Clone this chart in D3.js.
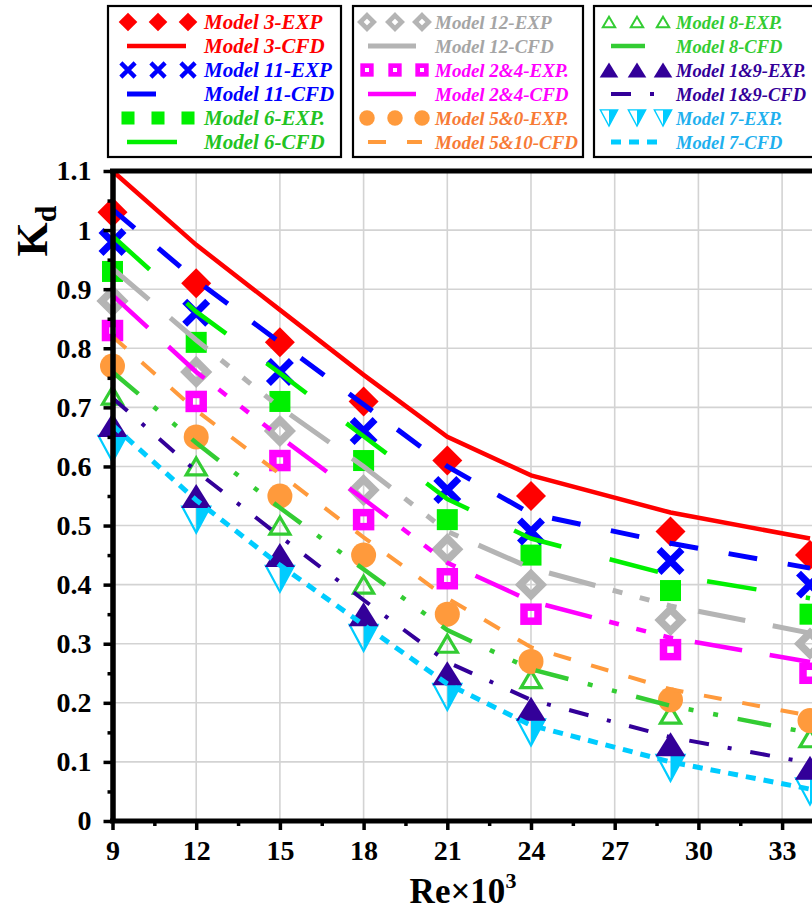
<!DOCTYPE html>
<html>
<head>
<meta charset="utf-8">
<script src="https://cdn.jsdelivr.net/npm/d3@7"></script>
<style>
body { margin: 0; background: #fff; }
text { font-family: "Liberation Serif", "Times New Roman", serif; font-weight: bold; }
</style>
</head>
<body>
<svg id="chart" width="812" height="910"></svg>
<script>
// Re x 10^3 positions shared by every series
var reValues = [9, 12, 15, 18, 21, 24, 29, 34];

// experimental points (markers)
var model3Exp = [1.03, 0.91, 0.81, 0.71, 0.61, 0.55, 0.49, 0.45];
var model11Exp = [0.98, 0.86, 0.76, 0.66, 0.56, 0.49, 0.44, 0.40];
var model6Exp = [0.93, 0.81, 0.71, 0.61, 0.51, 0.45, 0.39, 0.35];
var model12Exp = [0.88, 0.76, 0.66, 0.56, 0.46, 0.40, 0.34, 0.30];
var model24Exp = [0.83, 0.71, 0.61, 0.51, 0.41, 0.35, 0.29, 0.25];
var model50Exp = [0.77, 0.65, 0.55, 0.45, 0.35, 0.27, 0.205, 0.17];
var model8Exp = [0.72, 0.60, 0.50, 0.40, 0.30, 0.24, 0.18, 0.14];
var model19Exp = [0.67, 0.55, 0.45, 0.35, 0.25, 0.19, 0.13, 0.09];
var model7Exp = [0.63, 0.51, 0.41, 0.31, 0.21, 0.15, 0.09, 0.05];

// CFD curves (lines)
var model3Cfd = [1.10, 0.975, 0.865, 0.755, 0.65, 0.585, 0.522, 0.478];
var model11Cfd = [1.035, 0.915, 0.81, 0.705, 0.60, 0.52, 0.47, 0.428];
var model6Cfd = [0.99, 0.862, 0.758, 0.651, 0.545, 0.478, 0.416, 0.377];
var model12Cfd = [0.935, 0.814, 0.70, 0.60, 0.49, 0.428, 0.364, 0.318];
var model24Cfd = [0.89, 0.76, 0.65, 0.545, 0.437, 0.372, 0.31, 0.269];
var model510Cfd = [0.82, 0.695, 0.587, 0.48, 0.377, 0.294, 0.223, 0.178];
var model8Cfd = [0.76, 0.64, 0.53, 0.426, 0.323, 0.257, 0.195, 0.149];
var model19Cfd = [0.716, 0.592, 0.482, 0.374, 0.269, 0.205, 0.142, 0.098];
var model7Cfd = [0.67, 0.543, 0.433, 0.332, 0.232, 0.162, 0.10, 0.054];

var xTickValues = [9, 12, 15, 18, 21, 24, 27, 30, 33];
var xMinorValues = [10.5, 13.5, 16.5, 19.5, 22.5, 25.5, 28.5, 31.5];
var yTickValues = [0, 0.1, 0.2, 0.3, 0.4, 0.5, 0.6, 0.7, 0.8, 0.9, 1, 1.1];
var yMinorValues = [0.05, 0.15, 0.25, 0.35, 0.45, 0.55, 0.65, 0.75, 0.85, 0.95, 1.05];

var models = [
  { exp: model3Exp, cfd: model3Cfd, expName: "Model 3-EXP", cfdName: "Model 3-CFD",
    color: "#ff0000", text: "#ff0000", marker: "diamond", dash: null, lw: 4.5 },
  { exp: model11Exp, cfd: model11Cfd, expName: "Model 11-EXP", cfdName: "Model 11-CFD",
    color: "#0000ff", text: "#0000ff", marker: "cross", dash: "29,31", lw: 5 },
  { exp: model6Exp, cfd: model6Cfd, expName: "Model 6-EXP.", cfdName: "Model 6-CFD",
    color: "#00f000", text: "#22c322", marker: "square", dash: "50,50", lw: 4.5 },
  { exp: model12Exp, cfd: model12Cfd, expName: "Model 12-EXP", cfdName: "Model 12-CFD",
    color: "#b4b4b4", text: "#a5a5a5", marker: "diamondOpen", dash: "48,28,48,18,10,18,10,18,10,22", lw: 5 },
  { exp: model24Exp, cfd: model24Cfd, expName: "Model 2&4-EXP.", cfdName: "Model 2&4-CFD",
    color: "#ff00ff", text: "#ff00ff", marker: "squareOpen", dash: "48,28,48,18,10,18,10,18,10,22", lw: 4.5 },
  { exp: model50Exp, cfd: model510Cfd, expName: "Model 5&0-EXP.", cfdName: "Model 5&10-CFD",
    color: "#ff9a3c", text: "#f77b36", marker: "circle", dash: "18,21", lw: 4 },
  { exp: model8Exp, cfd: model8Cfd, expName: "Model 8-EXP.", cfdName: "Model 8-CFD",
    color: "#33cc33", text: "#33cc33", marker: "triangleOpen", dash: "34,20,5,20,5,20", lw: 4.5 },
  { exp: model19Exp, cfd: model19Cfd, expName: "Model 1&9-EXP.", cfdName: "Model 1&9-CFD",
    color: "#330099", text: "#330099", marker: "triangle", dash: "20,19,4,19", lw: 4 },
  { exp: model7Exp, cfd: model7Cfd, expName: "Model 7-EXP.", cfdName: "Model 7-CFD",
    color: "#00ccff", text: "#1fb0ee", marker: "triangleDown", dash: "10,8", lw: 5 }
];

var svg = d3.select("#chart");

var x = d3.scaleLinear().domain([9, 36]).range([112.5, 865.8]);
var y = d3.scaleLinear().domain([0, 1.1]).range([821, 171]);

function poly(pts, s) {
  return "M" + pts.map(function(p){ return (p[0] * s) + "," + (p[1] * s); }).join("L") + "Z";
}

// draws one marker centred on the current group origin
function addMarker(g, type, color, s) {
  if (type === "diamond") {
    g.append("path").attr("d", poly([[0,-15],[15,0],[0,15],[-15,0]], s)).attr("fill", color);
  } else if (type === "cross") {
    g.append("path").attr("d", "M" + (-11.5*s) + "," + (-11.5*s) + "L" + (11.5*s) + "," + (11.5*s) +
        "M" + (11.5*s) + "," + (-11.5*s) + "L" + (-11.5*s) + "," + (11.5*s))
      .attr("stroke", color).attr("stroke-width", 7 * s).attr("fill", "none");
  } else if (type === "square") {
    g.append("rect").attr("x", -10.5*s).attr("y", -10.5*s).attr("width", 21*s).attr("height", 21*s)
      .attr("fill", color);
  } else if (type === "diamondOpen") {
    g.append("path").attr("d", poly([[0,-10.8],[10.8,0],[0,10.8],[-10.8,0]], s))
      .attr("fill", "none").attr("stroke", color).attr("stroke-width", 7.5 * s);
  } else if (type === "squareOpen") {
    g.append("rect").attr("x", -7*s).attr("y", -7*s).attr("width", 14*s).attr("height", 14*s)
      .attr("fill", "none").attr("stroke", color).attr("stroke-width", 7.5 * s);
  } else if (type === "circle") {
    g.append("circle").attr("r", 12.5 * s).attr("fill", color);
  } else if (type === "triangleOpen") {
    g.append("path").attr("d", poly([[0,-8.5],[10,8.5],[-10,8.5]], s))
      .attr("fill", "none").attr("stroke", color).attr("stroke-width", 3.2 * s);
  } else if (type === "triangle") {
    g.append("path").attr("d", poly([[0,-12],[15,12],[-15,12]], s)).attr("fill", color);
  } else if (type === "triangleDown") {
    g.append("path").attr("d", poly([[0,-13],[14,-13],[0,13]], s)).attr("fill", color);
    g.append("path").attr("d", poly([[-14,-13],[14,-13],[0,13]], s))
      .attr("fill", "none").attr("stroke", color).attr("stroke-width", 2.2 * s);
  }
}

// grid
var grid = svg.append("g");
grid.selectAll(".vgrid")
  .data(xTickValues.filter(function(d){ return d > 9; }))
  .enter().append("line")
  .attr("x1", function(d){ return x(d); }).attr("x2", function(d){ return x(d); })
  .attr("y1", y(0)).attr("y2", y(1.1))
  .attr("stroke", "#d3d3d3").attr("stroke-width", 1.6);
grid.selectAll(".hgrid")
  .data(yTickValues.filter(function(d){ return d > 0 && d < 1.1; }))
  .enter().append("line")
  .attr("x1", x(9)).attr("x2", x(36))
  .attr("y1", function(d){ return y(d); }).attr("y2", function(d){ return y(d); })
  .attr("stroke", "#d3d3d3").attr("stroke-width", 1.6);

// markers, last model first so Model 3 sits on top
var markerLayer = svg.append("g");
models.slice().reverse().forEach(function(m) {
  m.exp.forEach(function(v, i) {
    var g = markerLayer.append("g")
      .attr("transform", "translate(" + x(reValues[i]) + "," + y(v) + ")");
    addMarker(g, m.marker, m.color, 1);
  });
});

// CFD lines
var line = d3.line()
  .x(function(d){ return x(d[0]); })
  .y(function(d){ return y(d[1]); });

var lineLayer = svg.append("g");
models.slice().reverse().forEach(function(m) {
  lineLayer.append("path")
    .datum(d3.zip(reValues, m.cfd))
    .attr("d", line)
    .attr("fill", "none")
    .attr("stroke", m.color)
    .attr("stroke-width", m.lw)
    .attr("stroke-dasharray", m.dash);
});

// axes
var fmtY = function(d){ return String(+d.toFixed(1)); };

var yAxis = svg.append("g").attr("transform", "translate(" + x(9) + ",0)")
  .call(d3.axisLeft(y).tickValues(yTickValues).tickSize(9).tickSizeOuter(0)
    .tickPadding(12).tickFormat(fmtY));
var yMinor = svg.append("g").attr("transform", "translate(" + x(9) + ",0)")
  .call(d3.axisLeft(y).tickValues(yMinorValues).tickSize(5).tickSizeOuter(0).tickFormat(""));

var xAxis = svg.append("g").attr("transform", "translate(0," + y(0) + ")")
  .call(d3.axisBottom(x).tickValues(xTickValues).tickSize(9).tickSizeOuter(0)
    .tickPadding(10).tickFormat(d3.format("d")));
var xMinor = svg.append("g").attr("transform", "translate(0," + y(0) + ")")
  .call(d3.axisBottom(x).tickValues(xMinorValues).tickSize(5).tickSizeOuter(0).tickFormat(""));

[yAxis, yMinor, xAxis, xMinor].forEach(function(a) {
  a.select(".domain").attr("stroke", "#000").attr("stroke-width", 5);
  a.selectAll(".tick line").attr("stroke", "#000").attr("stroke-width", 3.5);
  a.selectAll(".tick text")
    .attr("font-family", "Liberation Serif, Times New Roman, serif")
    .attr("font-weight", "bold").attr("font-size", 28).attr("fill", "#000");
});
// the bottom line runs past the last labelled tick to the frame edge
xAxis.select(".domain").attr("d", "M" + (x(9) - 2.5) + ",0H" + x(36));
xMinor.select(".domain").remove();

// top frame line
svg.append("line")
  .attr("x1", x(9) - 2.5).attr("x2", x(36))
  .attr("y1", y(1.1)).attr("y2", y(1.1))
  .attr("stroke", "#000").attr("stroke-width", 5);

// axis titles
var xTitle = svg.append("text")
  .attr("x", 463).attr("y", 903)
  .attr("text-anchor", "middle")
  .attr("font-size", 35);
xTitle.append("tspan").text("Re\u00d710");
xTitle.append("tspan").attr("font-size", 22).attr("dy", -15).text("3");

var yTitle = svg.append("text")
  .attr("transform", "translate(47,231) rotate(-90)")
  .attr("text-anchor", "middle")
  .attr("font-size", 44);
yTitle.append("tspan").text("K");
yTitle.append("tspan").attr("font-size", 30).attr("dy", 9).text("d");

// legend boxes
var boxLeft = [108, 353, 594];
var boxWidth = [233, 230, 230];
var markerOffsets = [[20, 50, 80], [14, 42, 69], [15, 43, 69]];
var lineSpan = [[19, 78], [15, 69], [17, 67]];
var textOffset = [96, 82, 82];
var textSize = [21, 19, 18.5];

boxLeft.forEach(function(bx, b) {
  svg.append("rect")
    .attr("x", bx).attr("y", 6).attr("width", boxWidth[b]).attr("height", 151)
    .attr("fill", "#fff").attr("stroke", "#000").attr("stroke-width", 2.2);
});

models.forEach(function(m, i) {
  var b = Math.floor(i / 3);
  var bx = boxLeft[b];
  var rowExp = 22 + (i % 3) * 48;
  var rowCfd = rowExp + 24;

  markerOffsets[b].forEach(function(off) {
    var g = svg.append("g").attr("transform", "translate(" + (bx + off) + "," + rowExp + ")");
    addMarker(g, m.marker, m.color, 0.62);
  });
  svg.append("line")
    .attr("x1", bx + lineSpan[b][0]).attr("x2", bx + lineSpan[b][1])
    .attr("y1", rowCfd).attr("y2", rowCfd)
    .attr("stroke", m.color).attr("stroke-width", m.lw)
    .attr("stroke-dasharray", m.dash);

  [[m.expName, rowExp], [m.cfdName, rowCfd]].forEach(function(t) {
    svg.append("text")
      .attr("x", bx + textOffset[b]).attr("y", t[1] + 7)
      .attr("font-size", textSize[b]).attr("font-style", "italic")
      .attr("fill", m.text)
      .text(t[0]);
  });
});
</script>
</body>
</html>
